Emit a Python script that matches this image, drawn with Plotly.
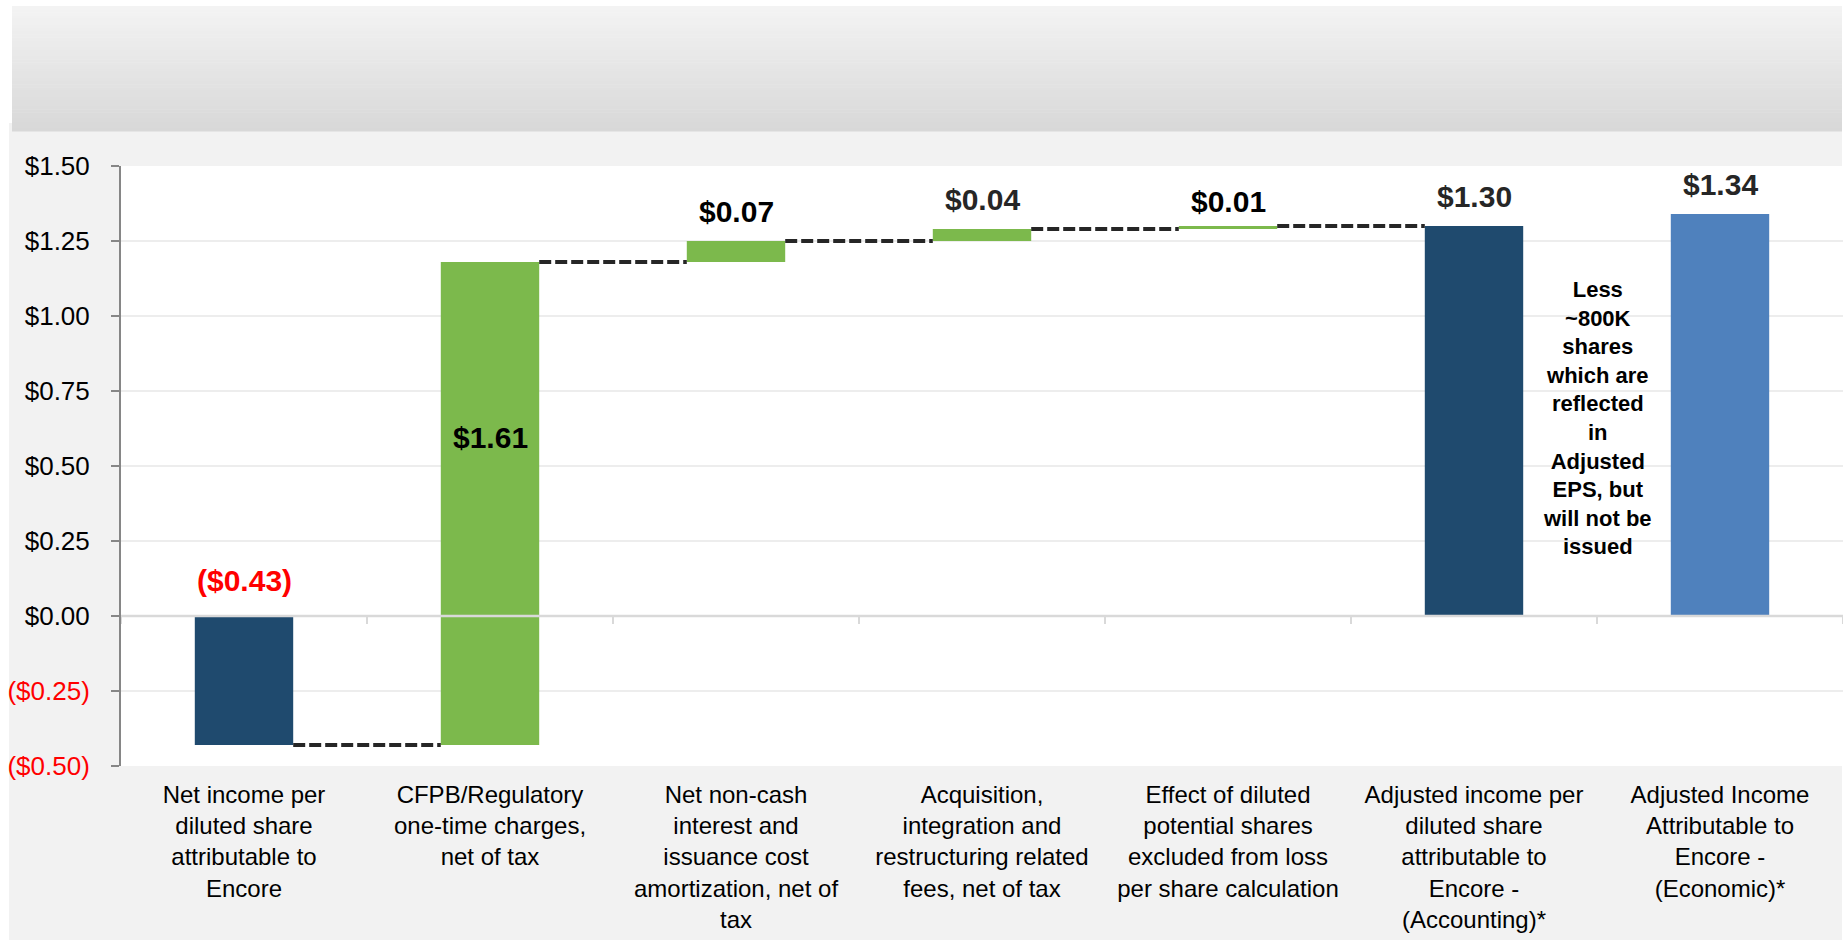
import plotly.graph_objects as go

# ---------------- data ----------------
categories = [
    "Net income per<br>diluted share<br>attributable to<br>Encore",
    "CFPB/Regulatory<br>one-time charges,<br>net of tax",
    "Net non-cash<br>interest and<br>issuance cost<br>amortization, net of<br>tax",
    "Acquisition,<br>integration and<br>restructuring related<br>fees, net of tax",
    "Effect of diluted<br>potential shares<br>excluded from loss<br>per share calculation",
    "Adjusted income per<br>diluted share<br>attributable to<br>Encore -<br>(Accounting)*",
    "Adjusted Income<br>Attributable to<br>Encore -<br>(Economic)*",
]
values = [-0.43, 1.61, 0.07, 0.04, 0.01, 1.30, 1.34]
measures = ["absolute", "relative", "relative", "relative", "relative", "total", "absolute"]
value_labels = ["($0.43)", "$1.61", "$0.07", "$0.04", "$0.01", "$1.30", "$1.34"]
y_ticks = [-0.5, -0.25, 0.0, 0.25, 0.5, 0.75, 1.0, 1.25, 1.5]
note_text = ("Less<br>~800K<br>shares<br>which are<br>reflected<br>in<br>Adjusted<br>"
             "EPS, but<br>will not be<br>issued")

# ---------------- styles ----------------
NAVY = "#1f4a6e"
GREEN = "#7cb94c"
LIGHTBLUE = "#4f81bd"
bar_colors = [NAVY, GREEN, GREEN, GREEN, GREEN, NAVY, LIGHTBLUE]
label_colors = ["#ff0000", "#000000", "#000000", "#262626", "#000000", "#262626", "#262626"]
FONT = "Arial, 'Liberation Sans', sans-serif"

W, H = 1845, 943
L, R, T, B = 121, 2, 166, 177
PW, PH = W - L - R, H - T - B

def px_x(px):
    return (px - L) / PW

def px_y(py):
    return (H - B - py) / PH

# ---------------- waterfall geometry from data ----------------
x_idx = list(range(len(categories)))
bases, heights, tops, levels = [], [], [], []
running = 0.0
for v, m in zip(values, measures):
    if m == "absolute":
        base, h = 0.0, v
        running = v
    elif m == "relative":
        base, h = running, v
        running += v
    else:  # total
        base, h = 0.0, running
    bases.append(base)
    heights.append(h)
    tops.append(max(base, base + h))
    levels.append(running)

BAR_W = 0.4

fig = go.Figure()

fig.add_trace(go.Bar(
    x=x_idx, y=heights, base=bases, width=BAR_W,
    marker=dict(color=bar_colors, line=dict(width=0)),
    hoverinfo="skip", showlegend=False,
))

# connectors
cx, cy = [], []
for i in range(len(values) - 1):
    if measures[i + 1] in ("relative", "total"):
        cx += [x_idx[i] + BAR_W / 2, x_idx[i + 1] - BAR_W / 2, None]
        cy += [levels[i], levels[i], None]
fig.add_trace(go.Scatter(
    x=cx, y=cy, mode="lines",
    line=dict(color="#262626", width=4, dash="12px,4px"),
    hoverinfo="skip", showlegend=False,
))

# value labels
annotations = []
for i, (lbl, col) in enumerate(zip(value_labels, label_colors)):
    if measures[i] == "relative" and abs(values[i]) > 0.5:
        y = bases[i] + heights[i] / 2
        ys = 66
    else:
        y = tops[i]
        if values[i] < 0:
            ys = 36
        elif measures[i] == "relative" and abs(values[i]) < 0.02:
            ys = 25
        else:
            ys = 30
    annotations.append(dict(
        x=x_idx[i], y=y, xref="x", yref="y", text=f"<b>{lbl}</b>",
        showarrow=False, yshift=ys, yanchor="middle",
        font=dict(family=FONT, size=30, color=col),
    ))

annotations.append(dict(
    x=5.5, y=0.66, xref="x", yref="y", text=f"<b>{note_text}</b>",
    showarrow=False, align="center",
    font=dict(family=FONT, size=22, color="#000000"),
))

# ---------------- background decoration shapes ----------------
shapes = []
GREY = "#f2f2f2"
panel_rects = [
    (9, 123, L, 940),          # left strip
    (L, H - B, 1842, 940),     # bottom strip
    (L, 123, 1842, T),         # top strip
]
for x0, y0, x1, y1 in panel_rects:
    shapes.append(dict(type="rect", xref="paper", yref="paper",
                       x0=px_x(x0), x1=px_x(x1), y0=px_y(y0), y1=px_y(y1),
                       fillcolor=GREY, line=dict(width=0), layer="below"))

# header gradient
n_bands = 40
hy0, hy1 = 6, 131
for k in range(n_bands):
    t = k / (n_bands - 1)
    c = int(round(243 - t * (243 - 216)))
    y0 = hy0 + (hy1 - hy0) * k / n_bands
    y1 = hy0 + (hy1 - hy0) * (k + 1) / n_bands + 0.6
    shapes.append(dict(type="rect", xref="paper", yref="paper",
                       x0=px_x(12), x1=px_x(1842), y0=px_y(y0), y1=px_y(y1),
                       fillcolor=f"rgb({c},{c},{c})", line=dict(width=0), layer="below"))

# zero line with category boundary ticks
shapes.append(dict(type="line", xref="paper", yref="y", x0=0, x1=1, y0=0, y1=0,
                   line=dict(color="#d9d9d9", width=2.5), layer="above"))
for i in range(len(categories) + 1):
    shapes.append(dict(type="line", xref="x", yref="y", ysizemode="pixel", yanchor=0,
                       x0=i - 0.5, x1=i - 0.5, y0=0, y1=-8,
                       line=dict(color="#d9d9d9", width=2), layer="above"))

# y tick text
def fmt(v):
    return f"${v:.2f}" if v >= 0 else f"<span style='color:#ff0000'>(${-v:.2f})</span>"

y_ticktext = [fmt(v) for v in y_ticks]

fig.update_layout(
    width=W, height=H,
    margin=dict(l=L, r=R, t=T, b=B, pad=0),
    paper_bgcolor="#ffffff", plot_bgcolor="#ffffff",
    font=dict(family=FONT, color="#000000"),
    bargap=0.6,
    showlegend=False,
    shapes=shapes,
    annotations=annotations,
    xaxis=dict(
        range=[-0.5, len(categories) - 0.5],
        tickvals=x_idx, ticktext=categories,
        showgrid=False, zeroline=False, showline=False, ticks="",
        tickfont=dict(family=FONT, size=24, color="#000000"),
        ticklabelstandoff=12, fixedrange=True,
    ),
    yaxis=dict(
        range=[-0.5, 1.5],
        tickvals=y_ticks, ticktext=y_ticktext,
        showgrid=True, gridcolor="#ededed", gridwidth=1.5,
        zeroline=False,
        showline=True, linecolor="#868686", linewidth=2,
        ticks="outside", ticklen=8, tickcolor="#868686", tickwidth=2,
        tickfont=dict(family=FONT, size=26, color="#000000"),
        ticklabelstandoff=16, fixedrange=True,
    ),
)

fig.write_html(
    "out.html",
    config={"displayModeBar": False},
    post_script="document.body.style.margin='0';document.body.style.overflow='hidden';",
)
